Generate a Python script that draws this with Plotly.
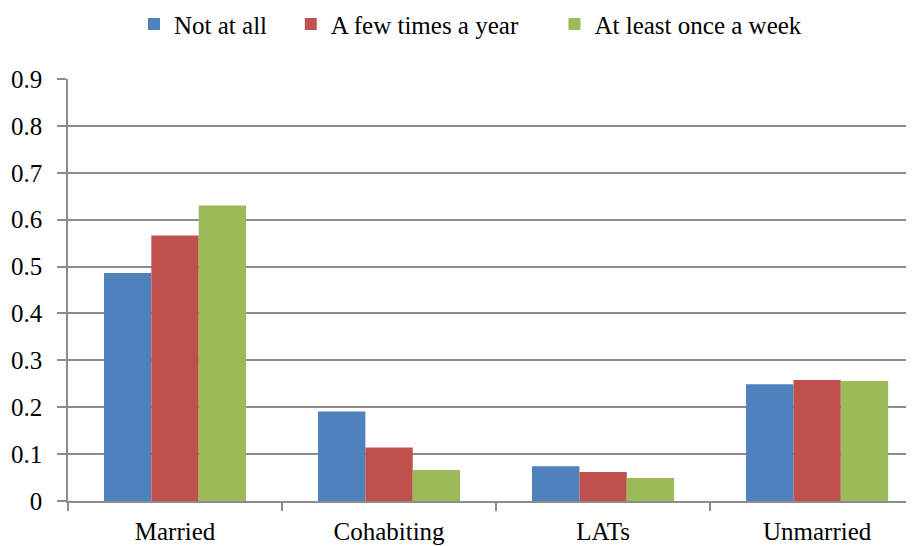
import plotly.graph_objects as go

categories = ["Married", "Cohabiting", "LATs", "Unmarried"]
not_at_all = [0.486, 0.191, 0.074, 0.249]
few_times_year = [0.566, 0.114, 0.062, 0.258]
once_a_week = [0.630, 0.066, 0.049, 0.256]
series_names = ["Not at all", "A few times a year", "At least once a week"]
colors = ["#4F81BD", "#C0504D", "#9BBB59"]
y_ticks = [0, 0.1, 0.2, 0.3, 0.4, 0.5, 0.6, 0.7, 0.8, 0.9]

FONT = "Liberation Serif"
GRID = "#8C8C8C"
NB = "\u00a0"
legend_pad = [3, 5, 0]

fig = go.Figure()
for name, vals, col, pad in zip(series_names, [not_at_all, few_times_year, once_a_week], colors, legend_pad):
    fig.add_trace(go.Bar(x=categories, y=vals, name=name + NB * pad,
                         marker=dict(color=col, line=dict(width=0))))

fig.update_layout(
    width=914, height=546,
    margin=dict(l=60, r=0, t=71, b=53, autoexpand=False),
    paper_bgcolor="white", plot_bgcolor="white",
    barmode="group", bargap=0.336, bargroupgap=0,
    font=dict(family=FONT, size=25, color="black"),
    legend=dict(orientation="h", x=0.0773, xanchor="left", y=1.184, yanchor="top",
                font=dict(family=FONT, size=25), itemwidth=30, traceorder="normal"),
    showlegend=True,
)
fig.update_xaxes(
    type="category", range=[-0.5, 3.49], automargin=False,
    showline=True, linecolor=GRID, linewidth=1.5,
    ticks="outside", tickson="boundaries", ticklen=8, tickcolor=GRID, tickwidth=1.5,
    showgrid=False, ticklabelstandoff=7, tickfont=dict(family=FONT, size=25),
)
fig.update_yaxes(
    range=[0, 0.9], tickvals=y_ticks, ticktext=[("0" if v == 0 else f"{v:.1f}") for v in y_ticks],
    automargin=False,
    showline=True, linecolor=GRID, linewidth=1.5,
    ticks="outside", ticklen=9, tickcolor=GRID, tickwidth=1.5,
    showgrid=True, gridcolor=GRID, gridwidth=1.5, zeroline=False,
    ticklabelstandoff=10, tickfont=dict(family=FONT, size=25),
)

fig.write_html("out.html")
